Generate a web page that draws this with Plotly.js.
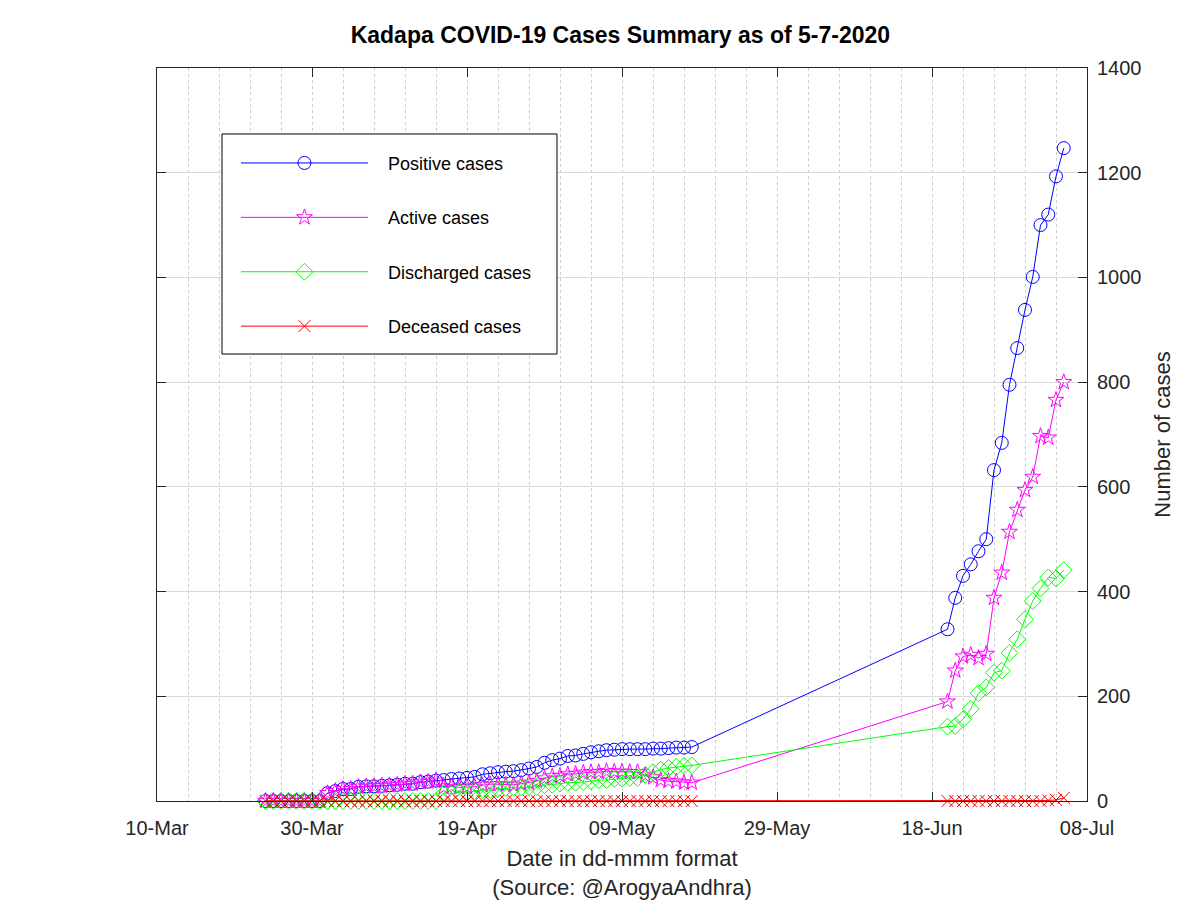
<!DOCTYPE html>
<html>
<head>
<meta charset="utf-8">
<script src="https://cdn.plot.ly/plotly-3.0.1.min.js"></script>
<style>html,body{margin:0;padding:0;background:#fff;}#chart{width:1200px;height:900px;}</style>
</head>
<body>
<div id="chart"></div>
<script>
const dates = [
  '2020-03-24','2020-03-25','2020-03-26','2020-03-27','2020-03-28','2020-03-29','2020-03-30','2020-03-31',
  '2020-04-01','2020-04-02','2020-04-03','2020-04-04','2020-04-05','2020-04-06','2020-04-07','2020-04-08','2020-04-09','2020-04-10',
  '2020-04-11','2020-04-12','2020-04-13','2020-04-14','2020-04-15','2020-04-16','2020-04-17','2020-04-18','2020-04-19','2020-04-20',
  '2020-04-21','2020-04-22','2020-04-23','2020-04-24','2020-04-25','2020-04-26','2020-04-27','2020-04-28','2020-04-29','2020-04-30',
  '2020-05-01','2020-05-02','2020-05-03','2020-05-04','2020-05-05','2020-05-06','2020-05-07','2020-05-08','2020-05-09','2020-05-10',
  '2020-05-11','2020-05-12','2020-05-13','2020-05-14','2020-05-15','2020-05-16','2020-05-17','2020-05-18',
  '2020-06-20','2020-06-21','2020-06-22','2020-06-23','2020-06-24','2020-06-25','2020-06-26','2020-06-27','2020-06-28','2020-06-29','2020-06-30',
  '2020-07-01','2020-07-02','2020-07-03','2020-07-04','2020-07-05'
];
const positive = [
  0,0,0,0,0,0,0,0,
  15,19,23,23,27,28,28,29,30,31,
  33,33,36,37,39,40,42,43,44,46,
  51,53,55,56,57,59,62,65,73,78,
  81,86,87,90,93,95,97,98,99,99,
  99,99,100,100,101,102,102,103,
  328,388,430,452,477,500,632,684,795,865,938,
  1001,1100,1120,1193,1247
];
const active = [
  0,0,0,0,0,0,0,0,
  15,19,23,23,27,28,28,29,30,31,
  33,33,36,37,39,26,28,26,27,27,
  30,32,32,31,31,33,35,38,43,47,
  48,51,52,54,55,55,57,56,56,55,
  55,49,45,40,38,37,35,35,
  190,249,276,279,273,281,388,436,514,556,594,
  619,697,694,766,800
];
const discharged = [
  0,0,0,0,0,0,0,0,
  0,0,0,0,0,0,0,0,0,0,
  0,0,0,0,0,14,14,17,17,19,
  21,21,23,25,26,26,27,27,30,31,
  33,35,35,36,38,40,40,42,43,44,
  44,50,55,60,63,65,67,68,
  142,143,156,176,206,217,245,249,283,309,347,
  382,406,427,425,441
];
const deceased = [
  0,0,0,0,0,0,0,0,
  0,0,0,0,0,0,0,0,0,0,
  0,0,0,0,0,0,0,0,0,0,
  0,0,0,0,0,0,0,0,0,0,
  0,0,0,0,0,0,0,0,0,0,
  0,0,0,0,0,0,0,0,
  0,0,0,0,0,0,0,0,0,0,0,
  0,0,1,2,6
];
const seriesNames = ['Positive cases','Active cases','Discharged cases','Deceased cases'];
const titleText = 'Kadapa COVID-19 Cases Summary as of 5-7-2020';
const xTitle = 'Date in dd-mmm format<br>(Source: @ArogyaAndhra)';
const yTitle = 'Number of cases';

const FONT = '"Liberation Sans", Arial, Helvetica, sans-serif';
const PAD = '\u00a0\u00a0\u00a0';
function tr(name, y, color, symbol, size, grp){
  return {x: dates, y: y, name: PAD + name, type: 'scatter', mode: 'lines+markers',
    legendgroup: grp, cliponaxis: false,
    line: {color: color, width: 1},
    marker: {symbol: symbol, size: size, color: color, line: {color: color, width: 1}}};
}
const data = [
  tr(seriesNames[0], positive, '#0000ff', 'circle-open', 13, 'a'),
  tr(seriesNames[1], active, '#ff00ff', 'star-open', 12, 'b'),
  tr(seriesNames[2], discharged, '#00ff00', 'diamond-open', 13, 'c'),
  tr(seriesNames[3], deceased, '#ff0000', 'x-thin-open', 12, 'd')
];
const DAY = 86400000;
const layout = {
  width: 1200, height: 900,
  paper_bgcolor: '#ffffff', plot_bgcolor: '#ffffff',
  margin: {l: 157, r: 113, t: 68, b: 99},
  font: {family: FONT, color: '#262626', size: 20},
  title: {text: '<b>' + titleText + '</b>', x: 0.517, xanchor: 'center', y: 0.961, yanchor: 'middle',
    font: {family: FONT, size: 23, color: '#000000'}},
  showlegend: true,
  legend: {x: 0.0849, y: 0.8953, xanchor: 'left', yanchor: 'top',
    bgcolor: 'rgba(0,0,0,0)', borderwidth: 0,
    itemwidth: 127, tracegroupgap: 28,
    font: {family: FONT, size: 18, color: '#000000'}},
  shapes: [{type: 'rect', xref: 'paper', yref: 'paper', x0: 0.0699, x1: 0.4301, y0: 0.6098, y1: 0.910,
    fillcolor: '#ffffff', line: {color: '#000000', width: 1}, layer: 'above'}],
  xaxis: {
    type: 'date', range: ['2020-03-10', '2020-07-08'],
    tick0: '2020-03-10', dtick: 20 * DAY, tickformat: '%d-%b',
    ticks: 'inside', ticklen: 9, tickcolor: '#262626', ticklabelstandoff: 9,
    showline: true, linecolor: '#262626', linewidth: 1, mirror: 'ticks',
    showgrid: true, gridcolor: '#cccccc', griddash: 'dot', gridwidth: 1,
    minor: {dtick: 4 * DAY, tick0: '2020-03-10', showgrid: true, gridcolor: '#cccccc', griddash: 'dot', gridwidth: 1, ticks: ''},
    zeroline: false,
    tickfont: {family: FONT, size: 20, color: '#262626'},
    title: {text: xTitle, standoff: 14, font: {family: FONT, size: 22, color: '#262626'}}
  },
  yaxis: {
    side: 'right', range: [0, 1400], dtick: 200, tick0: 0,
    ticks: 'inside', ticklen: 9, tickcolor: '#262626', ticklabelstandoff: 5,
    showline: true, linecolor: '#262626', linewidth: 1, mirror: 'ticks',
    showgrid: true, gridcolor: '#d9d9d9', gridwidth: 1,
    zeroline: false,
    tickfont: {family: FONT, size: 20, color: '#262626'},
    title: {text: yTitle, standoff: 14, font: {family: FONT, size: 22, color: '#262626'}}
  }
};
Plotly.newPlot('chart', data, layout, {displayModeBar: false, staticPlot: true});
</script>
</body>
</html>
